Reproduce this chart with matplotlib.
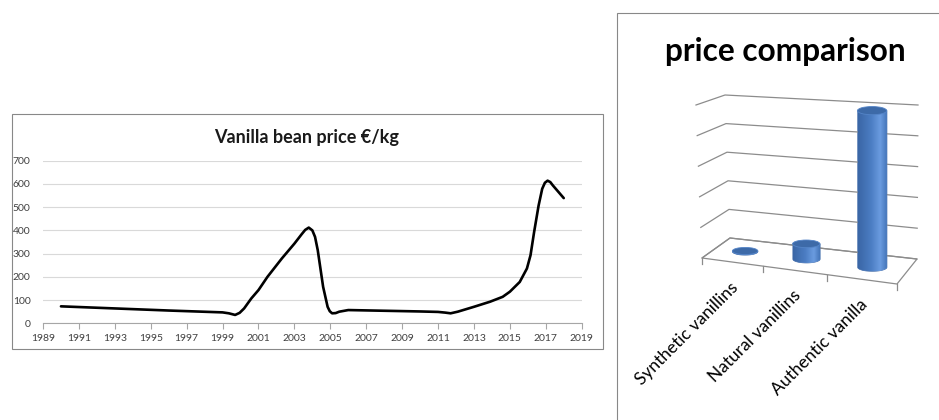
import numpy as np
import matplotlib
matplotlib.use("Agg")
import matplotlib.pyplot as plt
from matplotlib.patches import Rectangle, Ellipse, Polygon, PathPatch
from matplotlib.path import Path
from matplotlib.colors import LinearSegmentedColormap

plt.rcParams['font.family'] = ['Lato', 'DejaVu Sans']

# Vanilla bean price (EUR/kg)
years = [1990, 1993, 1996, 1999, 1999.35, 1999.55, 1999.7, 1999.95, 2000.2, 2000.6,
         2001, 2001.5, 2002.3, 2003, 2003.4, 2003.6, 2003.8, 2004.0, 2004.15,
         2004.3, 2004.45, 2004.6, 2004.85, 2004.97, 2005.1, 2005.3, 2005.5, 2006,
         2008, 2010, 2011, 2011.4, 2011.7, 2012.1, 2013, 2013.9, 2014.6, 2015,
         2015.55, 2015.95, 2016.15, 2016.35, 2016.6, 2016.8, 2016.95, 2017.1,
         2017.25, 2017.4, 2018]
prices = [73, 64, 55, 47, 43, 39, 36, 45, 64, 107,
          143, 200, 279, 343, 383, 402, 412, 400, 372,
          315, 236, 157, 71, 52, 43, 44, 50, 57,
          54, 51, 49, 46, 43, 50, 71, 93, 114, 136,
          178, 236, 293, 393, 507, 579, 605, 614,
          608, 593, 539]
year_ticks = list(range(1989, 2020, 2))
price_ticks = [0, 100, 200, 300, 400, 500, 600, 700]

# price comparison (relative, one grid step = 100)
cats = ['Synthetic vanillins', 'Natural vanillins', 'Authentic vanilla']
cat_prices = [2, 50, 500]
z_ticks = [0, 100, 200, 300, 400, 500]

W, H = 939, 420
fig = plt.figure(figsize=(W / 100, H / 100), dpi=100)
fig.patch.set_facecolor('white')


def fbox(x0, y0, x1, y1):
    # pixel box (top-left origin) -> figure fraction rect
    return [x0 / W, 1 - y1 / H, (x1 - x0) / W, (y1 - y0) / H]


# ---- left: line chart ----
b = fbox(11.5, 114, 603, 349)
fig.patches.append(Rectangle(b[:2], b[2], b[3], transform=fig.transFigure,
                             fill=False, ec='#888888', lw=0.8))
fig.text(307 / W, 1 - 137 / H, 'Vanilla bean price €/kg', ha='center', va='center',
         fontsize=13, fontweight='bold', color='#1a1a1a')

ax = fig.add_axes(fbox(43, 160.7, 581.7, 323.3))
ax.plot(years, prices, color='black', lw=1.9, solid_joinstyle='round', solid_capstyle='round')
ax.set_xlim(1989, 2019)
ax.set_ylim(0, 700)
ax.set_xticks(year_ticks)
ax.set_yticks(price_ticks)
ax.grid(axis='y', color='#d9d9d9', lw=0.8)
ax.set_axisbelow(True)
for s in ['top', 'right', 'left']:
    ax.spines[s].set_visible(False)
ax.spines['bottom'].set_color('#a6a6a6')
ax.spines['bottom'].set_linewidth(0.8)
ax.tick_params(axis='x', length=4, width=0.8, color='#a6a6a6', pad=4,
               labelsize=7.5, labelcolor='#404040')
ax.tick_params(axis='y', length=0, pad=9, labelsize=7.5, labelcolor='#404040')

# ---- right: pseudo 3D cylinder chart ----
fig.patches.append(Rectangle((617 / W, -0.1), 1, 1.1 - 12.7 / H,
                             transform=fig.transFigure, fill=False, ec='#888888', lw=0.8))
fig.text(785 / W, 1 - 52 / H, 'price comparison', ha='center', va='center',
         fontsize=22.8, fontweight='bold', color='black')

ax2 = fig.add_axes([0, 0, 1, 1])
ax2.set_axis_off()
ax2.patch.set_visible(False)

zmax = z_ticks[-1]
ncat = len(cats)
K = 0.1  # perspective along the category axis
FB = ((702, 258), (897, 284))   # front plane, z=0, left/right
FT = ((696, 105), (898, 121))   # front plane, z=top
BB = ((730, 238), (917, 259))   # back plane, z=0
BT = ((725, 95), (918, 105))    # back plane, z=top


def proj(x, y, z):
    u = x / ncat
    u = u * (1 - K) / (1 - K * u)
    w = z / zmax

    def plane(b, t):
        l = (1 - w) * np.array(b[0]) + w * np.array(t[0])
        r = (1 - w) * np.array(b[1]) + w * np.array(t[1])
        return (1 - u) * l + u * r
    return (1 - y) * plane(FB, FT) + y * plane(BB, BT)


grid_c = '#8c8c8c'
floor = [proj(0, 0, 0), proj(ncat, 0, 0), proj(ncat, 1, 0), proj(0, 1, 0)]
ax2.add_patch(Polygon(floor, closed=True, fc='white', ec=grid_c, lw=0.9))
for zt in z_ticks:
    a, b, c = proj(0, 0, zt), proj(0, 1, zt), proj(ncat, 1, zt)
    ax2.plot([a[0], b[0], c[0]], [a[1], b[1], c[1]], color=grid_c, lw=0.9)
for i in range(ncat + 1):
    p = proj(i, 0, 0)
    ax2.plot([p[0], p[0]], [p[1], p[1] + 6], color=grid_c, lw=0.9)

cmap = LinearSegmentedColormap.from_list('cyl', [
    (0.0, '#3a66a6'), (0.45, '#4c7ec4'), (0.75, '#6b9ce0'), (1.0, '#3f70b4')])
grad = np.linspace(0, 1, 64).reshape(1, -1)
r = 0.215
for i, (name, v) in enumerate(zip(cats, cat_prices)):
    cx = i + 0.5
    bot = proj(cx, 0.5, 0)
    top = proj(cx, 0.5, v)
    w = proj(cx + r, 0.5, 0)[0] - proj(cx - r, 0.5, 0)[0]
    h = 0.28 * w
    xc = bot[0]
    t = np.linspace(np.pi, 0, 40)
    arc = np.column_stack([xc + w / 2 * np.cos(t), bot[1] + h / 2 * np.sin(t)])
    verts = [(xc - w / 2, top[1])] + [tuple(q) for q in arc] + [(xc + w / 2, top[1]), (xc - w / 2, top[1])]
    body = PathPatch(Path(verts, closed=True), fc='none', ec='#3a66a6', lw=0.5)
    ax2.add_patch(body)
    im = ax2.imshow(grad, extent=[xc - w / 2, xc + w / 2, bot[1] + h / 2, top[1]],
                    cmap=cmap, aspect='auto', interpolation='bicubic', zorder=2)
    im.set_clip_path(body)
    ax2.add_patch(Ellipse((top[0], top[1]), w, h, fc='#3d6aa8', ec='#5585c8', lw=0.6, zorder=3))
    lab = proj(cx, 0, 0)
    ax2.text(lab[0] - 2, lab[1] + 17, name, rotation=45, rotation_mode='anchor',
             ha='right', va='top', fontsize=12.5, color='black')

ax2.set_xlim(0, W)
ax2.set_ylim(H, 0)

fig.savefig('out.png', dpi=100)
